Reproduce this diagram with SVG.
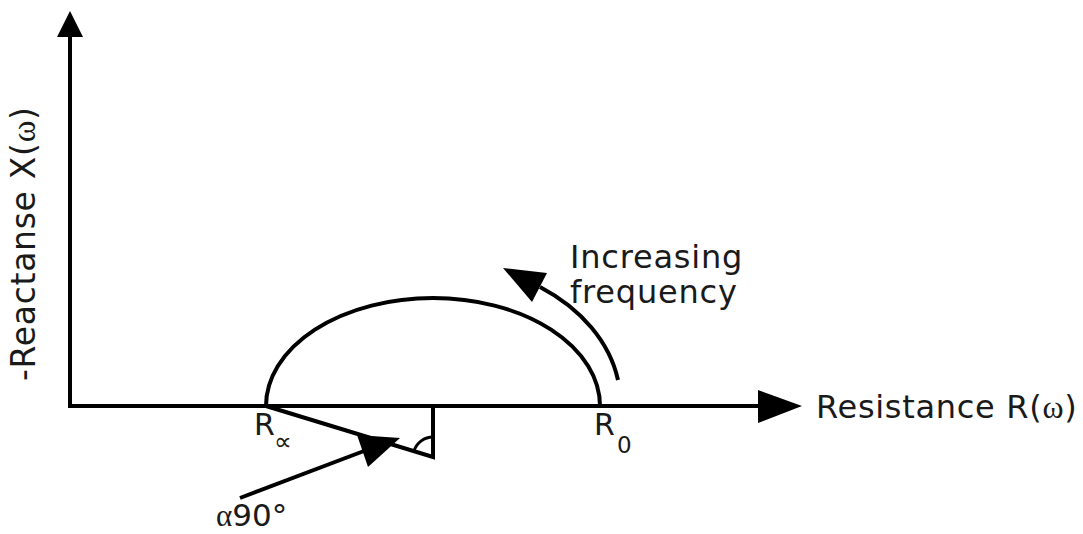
<svg xmlns="http://www.w3.org/2000/svg" width="1083" height="534" viewBox="0 0 1083 534">
<style>
.ln{fill:none;stroke:#000;stroke-width:4;stroke-linecap:butt}
.hd{fill:#000;stroke:none}
.t{font-family:"DejaVu Sans","Liberation Sans",sans-serif;fill:#1a1a1a}
.g{font-family:"Liberation Serif","DejaVu Serif",serif}
</style>
<rect width="1083" height="534" fill="#fff"/>
<g id="connectors">
<path class="ln" d="M70,408 V36"/>
<polygon class="hd" points="70,11 57,37 83,37"/>
<path class="ln" d="M68,406 H760"/>
<polygon class="hd" points="758,390 802,406 758,423"/>
<path class="ln" d="M266,406 A167,108 0 0 1 600,406"/>
<path class="ln" d="M618,380 A188,142 0 0 0 540,287"/>
<polygon class="hd" points="503,268 547,273 532,302"/>
<path class="ln" d="M266,406 L433,457 V406"/>
<path class="ln" style="stroke-width:3" d="M414,451 A20,20 0 0 1 433,437"/>
<path class="ln" d="M240,498 L364,451"/>
<polygon class="hd" points="400,438 357,435 368,467"/>
</g>
<g id="label-y"><text class="t" font-size="33" letter-spacing="0.7" transform="translate(35,381) rotate(-90)">-Reactanse X(<tspan class="g">ω</tspan>)</text></g>
<g id="label-x"><text class="t" x="816" y="418" font-size="32" letter-spacing="0.7">Resistance R(<tspan class="g">ω</tspan>)</text></g>
<g id="label-freq"><text class="t" font-size="32" letter-spacing="0.8"><tspan x="570" y="268">Increasing</tspan><tspan x="570" y="303">frequency</tspan></text></g>
<g id="label-rinf"><text class="t" x="254" y="435" font-size="30">R</text><text class="t" x="274" y="450" font-size="25" fill="#555">∝</text></g>
<g id="label-r0"><text class="t" x="594" y="435" font-size="30">R</text><text class="t" x="617" y="453" font-size="23">0</text></g>
<g id="label-alpha"><text class="t" x="216" y="526" font-size="31"><tspan class="g">α</tspan>90°</text></g>
</svg>
